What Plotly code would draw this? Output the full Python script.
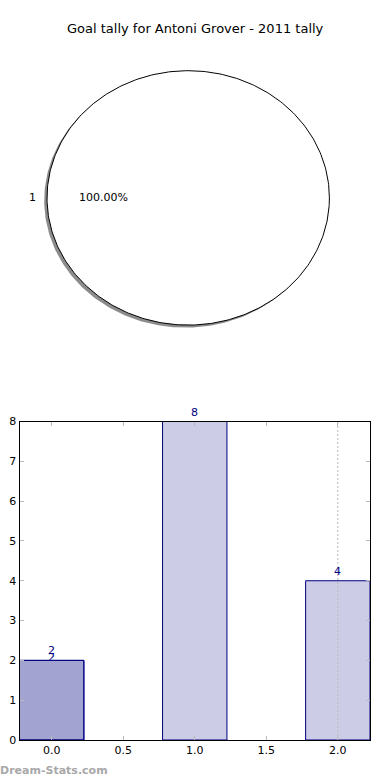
import numpy as np
import plotly.graph_objects as go

# ---- data ----
title_text = "Goal tally for Antoni Grover - 2011 tally"
pie_labels = ["1"]
pie_values = [1]

bar_x = [0, 1, 2]
bar_y = [2, 8, 4]
bar2_x = [0]
bar2_y = [2]

FONT = "DejaVu Sans"
W, H = 390, 780

fig = go.Figure()

# ---- pie drawn on stretched axes (as in an unequal-aspect pie) ----
total = float(sum(pie_values))
start = 0.0
for lab, v in zip(pie_labels, pie_values):
    frac = v / total
    th = np.linspace(start, start + frac * 2 * np.pi, 361)
    if frac < 1:
        xs = np.concatenate([[0], np.cos(th), [0]])
        ys = np.concatenate([[0], np.sin(th), [0]])
    else:
        xs, ys = np.cos(th), np.sin(th)
    # shadow
    fig.add_trace(go.Scatter(x=xs - 0.02, y=ys - 0.02, mode="lines", fill="toself",
                             fillcolor="rgba(0,0,0,0.45)", line=dict(width=0),
                             hoverinfo="skip", showlegend=False, xaxis="x", yaxis="y"))
    fig.add_trace(go.Scatter(x=xs, y=ys, mode="lines", fill="toself",
                             fillcolor="white", line=dict(color="black", width=1),
                             hoverinfo="skip", showlegend=False, xaxis="x", yaxis="y"))
    mid = start + frac * np.pi
    fig.add_annotation(x=1.1 * np.cos(mid), y=1.1 * np.sin(mid), xref="x", yref="y",
                       text=lab, showarrow=False, xanchor="center", yanchor="middle",
                       font=dict(family=FONT, size=11, color="black"))
    fig.add_annotation(x=0.6 * np.cos(mid), y=0.6 * np.sin(mid), xref="x", yref="y",
                       text=f"{frac*100:.2f}%", showarrow=False, xanchor="center",
                       yanchor="middle", font=dict(family=FONT, size=11, color="black"))
    start += frac * 2 * np.pi

# ---- bars ----
bar_fill = "rgba(0,0,128,0.2)"
bar_edge = "#000080"
fig.add_trace(go.Bar(x=bar_x, y=bar_y, width=0.45, marker=dict(color=bar_fill,
                     line=dict(color=bar_edge, width=1)), showlegend=False,
                     xaxis="x2", yaxis="y2"))
fig.add_trace(go.Bar(x=bar2_x, y=bar2_y, width=0.45, marker=dict(color=bar_fill,
                     line=dict(color=bar_edge, width=1)), showlegend=False,
                     xaxis="x2", yaxis="y2"))

for xv, yv in zip(bar_x, bar_y):
    fig.add_annotation(x=xv, y=yv, xref="x2", yref="y2", text=str(yv), showarrow=False,
                       yanchor="bottom", yshift=1,
                       font=dict(family=FONT, size=11, color="#000080"))
for xv, yv in zip(bar2_x, bar2_y):
    fig.add_annotation(x=xv, y=yv, xref="x2", yref="y2", text=str(yv), showarrow=False,
                       yanchor="bottom", yshift=-6,
                       font=dict(family=FONT, size=11, color="#000080"))

# dotted reference line at last category
fig.add_shape(type="line", xref="x2", yref="y2 domain", x0=bar_x[-1], x1=bar_x[-1],
              y0=0, y1=1, line=dict(color="#b8b8b8", width=1, dash="2px,2px"), layer="above")

fig.add_annotation(x=0.5, y=1 - 29 / H, xref="paper", yref="paper", text=title_text,
                   showarrow=False, xanchor="center", yanchor="middle",
                   font=dict(family=FONT, size=13, color="black"))
fig.add_annotation(x=-0.005, y=1 - 770 / H, xref="paper", yref="paper", xanchor="left",
                   yanchor="middle", text="<b>Dream-Stats.com</b>", showarrow=False,
                   font=dict(family=FONT, size=11, color="#a8a8a8"))

cx, cy, rx, ry = 188.2, 197.9, 141.2, 127.2
py_top, py_bot = 40, 360
axis_common = dict(showgrid=False, zeroline=False, showticklabels=False, ticks="",
                   showline=False, fixedrange=True)

fig.update_layout(
    width=W, height=H, margin=dict(l=0, r=0, t=0, b=0, autoexpand=False),
    paper_bgcolor="white", plot_bgcolor="white", barmode="overlay",
    font=dict(family=FONT, size=11, color="black"),
    xaxis=dict(domain=[0, 1], range=[(0 - cx) / rx, (W - cx) / rx], **axis_common),
    yaxis=dict(domain=[1 - py_bot / H, 1 - py_top / H],
               range=[-(py_bot - cy) / ry, (cy - py_top) / ry], **axis_common),
    xaxis2=dict(domain=[19.5 / W, 370 / W], range=[-0.225, 2.225], anchor="y2",
                tickvals=[0, 0.5, 1, 1.5, 2], ticktext=["0.0", "0.5", "1.0", "1.5", "2.0"],
                ticks="inside", ticklen=4, tickcolor="#bbbbbb", showline=True,
                linecolor="black", linewidth=1, mirror="allticks", showgrid=False,
                zeroline=False, automargin=False,
                tickfont=dict(family=FONT, size=11, color="black")),
    yaxis2=dict(domain=[1 - 740 / H, 1 - 421.5 / H], range=[0, 8], anchor="x2",
                tickvals=list(range(0, 9)), ticks="inside", ticklen=4, tickcolor="#bbbbbb",
                showline=True, linecolor="black", linewidth=1, mirror="allticks",
                showgrid=False, zeroline=False, automargin=False,
                tickfont=dict(family=FONT, size=11, color="black")),
)

fig.write_html("out.html")
